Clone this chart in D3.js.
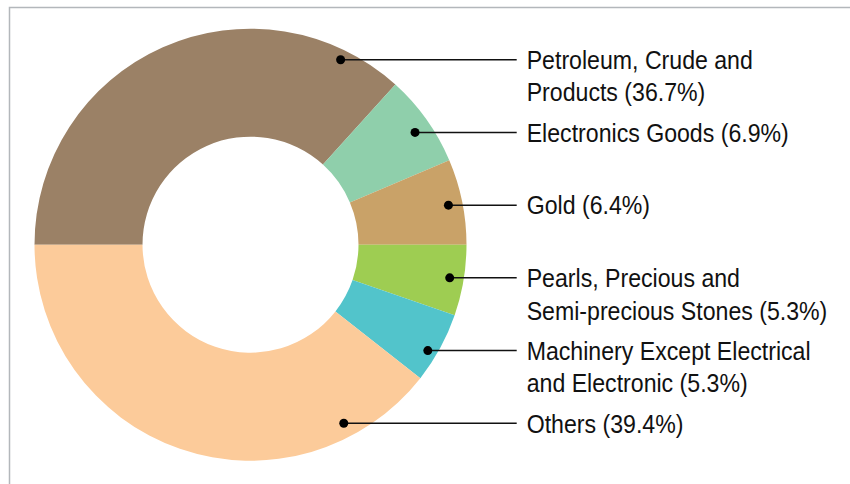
<!DOCTYPE html>
<html><head><meta charset="utf-8">
<script src="https://cdn.jsdelivr.net/npm/d3@7"></script>
<style>html,body{margin:0;padding:0;background:#fff;overflow:hidden}</style>
</head><body>
<svg id="chart" width="850" height="484"></svg>
<script>
const categories = ["Petroleum, Crude and Products","Electronics Goods","Gold","Pearls, Precious and Semi-precious Stones","Machinery Except Electrical and Electronic","Others"];
const values = [36.7, 6.9, 6.4, 5.3, 5.3, 39.4];
const labelLines = [["Petroleum, Crude and","Products (36.7%)"],["Electronics Goods (6.9%)"],["Gold (6.4%)"],["Pearls, Precious and","Semi-precious Stones (5.3%)"],["Machinery Except Electrical","and Electronic (5.3%)"],["Others (39.4%)"]];
const colors = ["#9b8166","#8fcfab","#c9a268","#9ecd52","#52c4cb","#fccb9a"];

const svg = d3.select("#chart");
// frame
svg.append("path").attr("d","M9.5,490 V7.5 H860").attr("fill","none").attr("stroke","#b3b7bb").attr("stroke-width",1.5);

const cx = 250.5, cy = 244.7, R = 216, r = 108;
const g = svg.append("g").attr("transform",`translate(${cx},${cy})`);
const pie = d3.pie().sort(null).startAngle(-Math.PI/2).endAngle(1.5*Math.PI);
const arcs = pie(values);
const arc = d3.arc().innerRadius(r).outerRadius(R);
g.selectAll("path.slice").data(arcs).join("path").attr("class","slice")
  .attr("d",arc).attr("fill",(d,i)=>colors[i]);

// callouts: labels evenly spaced vertically
const yLab = d3.scalePoint().domain(categories).range([59.7, 423.3]);
const dotR = 202;
const lo = 26.5*Math.PI/180, hi = 152.5*Math.PI/180;
const lineEnd = 516.7, textX = 526.7, sx = 0.907;
arcs.forEach((d,i)=>{
  let a = (d.startAngle+d.endAngle)/2;
  a = Math.max(lo, Math.min(hi, a));
  const x = cx + dotR*Math.sin(a), y = yLab(categories[i]);
  svg.append("line").attr("x1",x).attr("y1",y).attr("x2",lineEnd).attr("y2",y)
    .attr("stroke","#111").attr("stroke-width",1.5);
  svg.append("circle").attr("cx",x).attr("cy",y).attr("r",4.5).attr("fill","#000");
  const t = svg.append("text")
    .attr("transform",`translate(${textX},${y+9.2}) scale(${sx},1)`)
    .attr("font-family","'Liberation Sans Narrow','Arial Narrow',sans-serif")
    .attr("font-size",25.5).attr("fill","#111");
  labelLines[i].forEach((s,j)=>{
    t.append("tspan").attr("x",0).attr("y", j*32.5).text(s);
  });
});
</script>
</body></html>
